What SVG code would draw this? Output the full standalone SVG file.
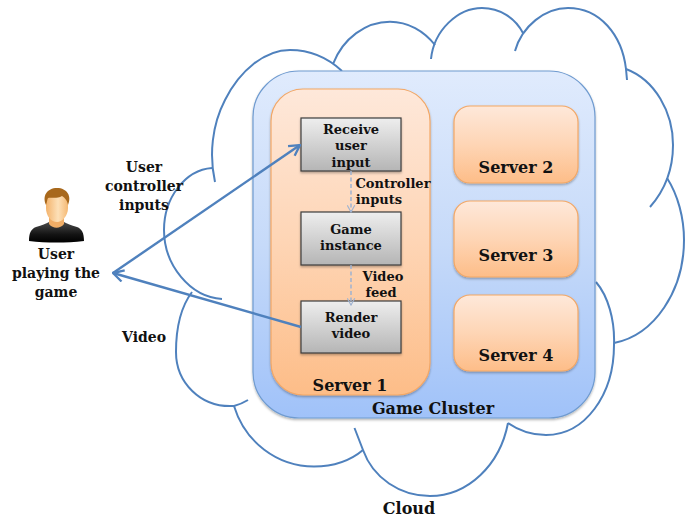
<svg xmlns="http://www.w3.org/2000/svg" width="696" height="519" viewBox="0 0 696 519">
<style>
text{font-family:"DejaVu Serif","Liberation Serif",serif;font-weight:700;fill:#111;text-anchor:middle}
.s{font-size:13px}
.l{font-size:14px}
.m{font-size:16px}
.cloud{fill:none;stroke:#4f81bd;stroke-width:2}
.arrow{fill:none;stroke:#4f81bd;stroke-width:2.4}
.dash{fill:none;stroke:#9fb3d1;stroke-width:1.5;stroke-dasharray:4 2.5}
.proc{fill:url(#grey);stroke:#3d3d3d;stroke-width:1.2;filter:url(#sh)}
.srv{fill:url(#peach);stroke:#f3a765;stroke-width:1.2;filter:url(#sh)}
</style>
<defs>
<linearGradient id="blue" x1="0" y1="0" x2="0" y2="1"><stop offset="0" stop-color="#e0ebfd"/><stop offset=".5" stop-color="#c6daf9"/><stop offset="1" stop-color="#a0c2f9"/></linearGradient>
<linearGradient id="peach" x1="0" y1="0" x2="0" y2="1"><stop offset="0" stop-color="#fee8da"/><stop offset=".5" stop-color="#fed5b5"/><stop offset="1" stop-color="#fdbd88"/></linearGradient>
<linearGradient id="grey" x1="0" y1="0" x2="0" y2="1"><stop offset="0" stop-color="#eeeeee"/><stop offset="1" stop-color="#b5b5b5"/></linearGradient>
<linearGradient id="skin" x1="0" y1="0" x2="1" y2="0"><stop offset="0" stop-color="#f3b36c"/><stop offset=".55" stop-color="#fde0b8"/><stop offset="1" stop-color="#f5b974"/></linearGradient>
<linearGradient id="shirt" x1="0" y1="0" x2="0" y2="1"><stop offset="0" stop-color="#4a4a4a"/><stop offset=".6" stop-color="#141414"/><stop offset="1" stop-color="#000"/></linearGradient>
<filter id="sh" x="-10%" y="-10%" width="120%" height="125%"><feDropShadow dx="0" dy="1.5" stdDeviation="1.2" flood-color="#000" flood-opacity=".3"/></filter>
<marker id="open" viewBox="0 0 12 12" refX="11" refY="6" markerWidth="14" markerHeight="14" markerUnits="userSpaceOnUse" orient="auto"><path d="M2 1L11 6L2 11" fill="none" stroke="#4f81bd" stroke-width="2"/></marker>
<marker id="open2" viewBox="0 0 12 12" refX="11" refY="6" markerWidth="9" markerHeight="9" markerUnits="userSpaceOnUse" orient="auto"><path d="M2 1L11 6L2 11" fill="none" stroke="#9fb3d1" stroke-width="1.6"/></marker>
</defs>
<g id="cloud">
<path class="cloud" d="M215 182C209 155 212 125 225 100C240 70 265 50 290 50C310 50 328 58 342 71"/>
<path class="cloud" d="M333 64C343 38 366 21.7 390 21.7C408 21.7 424 31 435 45"/>
<path class="cloud" d="M431 59C434 30 458 8 482 8C500 8 515 18 523 33"/>
<path class="cloud" d="M515 51C522 26 545 8 568 8C600 8 622 35 626 69L627 80"/>
<path class="cloud" d="M626 69C655 80 673 112 673 145C673 170 665 190 650 207"/>
<path class="cloud" d="M667 178C678 195 684 218 684 240C684 290 655 335 614 343"/>
<path class="cloud" d="M596 282C608 296 615 320 614 345C614 395 585 435 546 435C532 435 518 430 508 423"/>
<path class="cloud" d="M508 423C500 465 468 496 430 496C400 496 373 478 363 450L354.5 428"/>
<path class="cloud" d="M363 450C350 461 332 466.5 314 466.5C277 466.5 245 442 234 406"/>
<path class="cloud" d="M248 400C243 403 238 405 234 406C200 408 176 382 176 352C176 330 180 308 192 292"/>
<path class="cloud" d="M222 299C190 297 164 265 164 230C164 198 185 170 212 168"/>
</g>
<g id="game-cluster"><rect x="253" y="71" width="342" height="347" rx="46" fill="url(#blue)" stroke="#6f9bd0" stroke-width="1.2" filter="url(#sh)"/>
<text class="m" x="433" y="414">Game Cluster</text></g>
<g id="server-1"><rect x="271" y="89" width="159" height="306" rx="32" fill="url(#peach)" stroke="#f3a765" stroke-width="1.2" filter="url(#sh)"/>
<text class="m" x="350" y="391">Server 1</text></g>
<g id="server-2"><rect class="srv" x="454" y="106" width="124" height="77" rx="16"/><text class="m" x="516" y="173">Server 2</text></g>
<g id="server-3"><rect class="srv" x="454" y="201" width="124" height="76" rx="16"/><text class="m" x="516" y="261">Server 3</text></g>
<g id="server-4"><rect class="srv" x="454" y="295" width="124" height="76" rx="16"/><text class="m" x="516" y="361">Server 4</text></g>
<g id="receive"><rect class="proc" x="301" y="118" width="100" height="53"/><text class="s" x="351" y="134">Receive</text><text class="s" x="351" y="150">user</text><text class="s" x="351" y="167">input</text></g>
<g id="game-instance"><rect class="proc" x="301" y="212" width="100" height="53"/><text class="s" x="351" y="234">Game</text><text class="s" x="351" y="250">instance</text></g>
<g id="render"><rect class="proc" x="301" y="301" width="100" height="52"/><text class="s" x="351" y="322">Render</text><text class="s" x="351" y="338">video</text></g>
<g id="connectors">
<path class="dash" d="M351 171V212" marker-end="url(#open2)"/>
<path class="dash" d="M351 265V305" marker-end="url(#open2)"/>
<path class="arrow" d="M113 273L300 145" marker-end="url(#open)"/>
<path class="arrow" d="M301 327L113 273" marker-end="url(#open)"/>
</g>
<g id="user">
<path d="M29 241C29 233 31 229 36 227C42 225 46 224 49 222H64C67 224 71 225 77 227C82 229 84 233 84 241C66 243 47 243 29 241Z" fill="url(#shirt)"/>
<path d="M49 216H64V224C60 229 53 229 49 224Z" fill="#f0ad66"/>
<path d="M46 196H68V208C68 216 62 222 57 222C51 222 46 216 46 208Z" fill="url(#skin)"/>
<path d="M46 205C42 196 47 188 57 188C67 188 72 196 68 205C67 200 65 198 62 196C57 199 51 197 48 198C47 200 47 202 46 205Z" fill="#a8681c"/>
</g>
<g id="labels">
<text class="l" x="56" y="259">User</text><text class="l" x="56" y="278">playing the</text><text class="l" x="56" y="297">game</text>
<text class="l" x="144" y="172">User</text><text class="l" x="144" y="191">controller</text><text class="l" x="144" y="210">inputs</text>
<text class="l" x="144" y="342">Video</text>
<text class="s" x="393" y="188">Controller</text><text class="s" x="379" y="204">inputs</text>
<text class="s" x="383" y="281">Video</text><text class="s" x="381" y="297">feed</text>
<text class="m" x="409" y="514">Cloud</text>
</g>
</svg>
